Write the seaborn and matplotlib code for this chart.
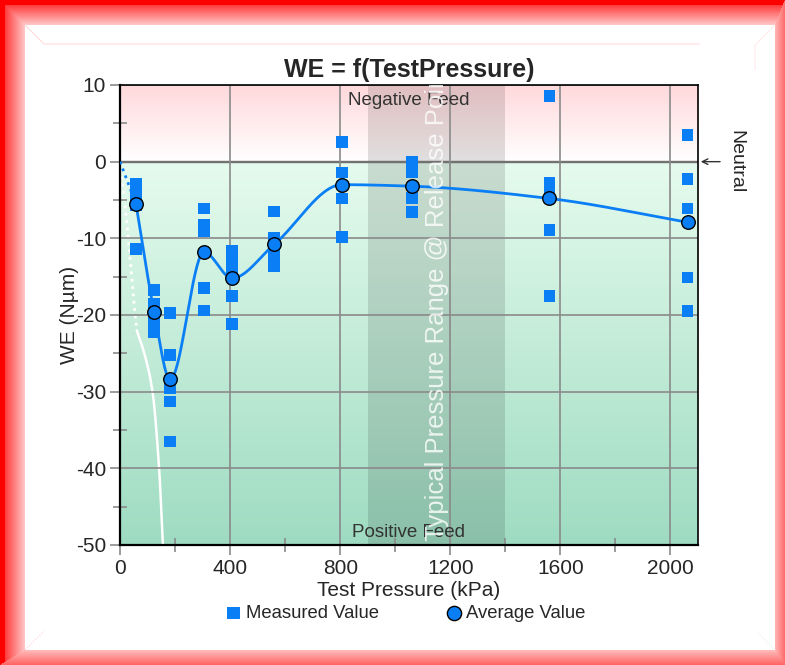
import numpy as np
import pandas as pd
import matplotlib
matplotlib.use("Agg")
import matplotlib.pyplot as plt
import seaborn as sns

# measured points (pressure in kPa, WE in N·µm)
pressures = [58, 124, 182, 305, 407, 560, 807, 1061, 1560, 2062]
measured = [
    [-2.9, -3.6, -4.3, -5.0, -5.7, -11.4],
    [-16.7, -18.5, -19.5, -20.8, -21.5, -22.2],
    [-19.7, -25.2, -28.6, -29.6, -31.3, -36.5],
    [-6.1, -8.3, -9.1, -16.5, -19.4],
    [-11.6, -12.4, -13.2, -14.0, -17.5, -21.2],
    [-6.5, -9.9, -11.0, -12.0, -12.8, -13.6],
    [2.6, -1.4, -4.8, -9.8],
    [0.0, -1.4, -4.7, -6.6],
    [8.6, -2.7, -3.4, -8.9, -17.5],
    [3.5, -2.3, -6.1, -15.1, -19.5],
]
averages = [-5.5, -19.6, -28.4, -11.8, -15.2, -10.8, -3.0, -3.2, -4.8, -7.9]

# white reference curve (dotted part, then solid part)
ref_dot_x = [0, 10, 25, 40, 55, 61]
ref_dot_y = [0, -3, -8, -14, -20, -22]
ref_x = [61, 92, 118, 142, 156]
ref_y = [-22, -25.5, -30, -40, -50]

release_range = (900, 1400)
x_ticks = [0, 400, 800, 1200, 1600, 2000]
y_ticks = [-50, -40, -30, -20, -10, 0, 10]


def pchip(x, y, xs):
    # shape preserving cubic hermite (Fritsch-Carlson)
    x = np.asarray(x, float)
    y = np.asarray(y, float)
    h = np.diff(x)
    delta = np.diff(y) / h
    n = len(x)
    m = np.zeros(n)
    for i in range(1, n - 1):
        if delta[i - 1] * delta[i] > 0:
            w1 = 2 * h[i] + h[i - 1]
            w2 = h[i] + 2 * h[i - 1]
            m[i] = (w1 + w2) / (w1 / delta[i - 1] + w2 / delta[i])
    m[0] = delta[0]
    m[-1] = delta[-1]
    idx = np.clip(np.searchsorted(x, xs) - 1, 0, n - 2)
    t = (xs - x[idx]) / h[idx]
    h00 = 2 * t ** 3 - 3 * t ** 2 + 1
    h10 = t ** 3 - 2 * t ** 2 + t
    h01 = -2 * t ** 3 + 3 * t ** 2
    h11 = t ** 3 - t ** 2
    return h00 * y[idx] + h10 * h[idx] * m[idx] + h01 * y[idx + 1] + h11 * h[idx] * m[idx + 1]


sns.set_style("ticks")
plt.rcParams["font.family"] = ["Liberation Sans", "DejaVu Sans"]
plt.rcParams["axes.unicode_minus"] = False

W, H = 785, 665
fig = plt.figure(figsize=(W / 100, H / 100), dpi=100)

# red bevelled frame drawn as an image in a background axes
bg = fig.add_axes([0, 0, 1, 1], zorder=-5)
bg.set_axis_off()
yy, xx = np.mgrid[0:H, 0:W]
img = np.ones((H, W, 3))
depths = np.stack([xx / 25.0, yy / 25.0, (W - 1 - xx) / 10.0, (H - 1 - yy) / 15.0])
side = np.argmin(depths, axis=0)
dmin = np.min(depths, axis=0)
inside = dmin < 1
g_tl = np.where(dmin < 0.2, 0.0, 0.25 + 0.55 * (dmin - 0.2) / 0.8)
g_r = 0.43 + 0.30 * dmin
g_b = 0.40 + 0.35 * dmin
g = np.select([side < 2, side == 2], [g_tl, g_r], g_b)
img[..., 1] = np.where(inside, g, 1)
img[..., 2] = np.where(inside, g, 1)
bg.imshow(img, extent=[0, W, H, 0], aspect="auto")
bg.set_xlim(0, W)
bg.set_ylim(H, 0)
bg.plot([25, 44, 700], [25, 44, 44], color="#ffd6d6", lw=0.7)
bg.plot([775, 755, 755], [25, 45, 70], color="#ffe8e8", lw=0.7)
bg.plot([25, 44], [650, 631], color="#ffd0d0", lw=0.8, ls=":")
bg.plot([775, 758], [650, 633], color="#f4f4f4", lw=0.7)

ax = fig.add_axes([120 / W, 1 - 545 / H, 578 / W, 460 / H])
xmax = 2100

# feed zone gradients
pink = np.linspace([1.0, 0.85, 0.86], [1.0, 1.0, 1.0], 64).reshape(64, 1, 3)
green = np.linspace([0.90, 0.985, 0.93], [0.62, 0.86, 0.76], 256).reshape(256, 1, 3)
ax.imshow(pink, extent=[0, xmax, 0, 10], aspect="auto", zorder=0)
ax.imshow(green, extent=[0, xmax, -50, 0], aspect="auto", zorder=0)
ax.axvspan(*release_range, color="black", alpha=0.12, lw=0, zorder=1.5)

ax.set_xlim(0, xmax)
ax.set_ylim(-50, 10)
ax.set_xticks(x_ticks)
ax.set_yticks(y_ticks)
ax.set_xticks(np.arange(200, 2100, 400), minor=True)
ax.set_yticks(np.arange(-45, 10, 10), minor=True)
ax.grid(True, which="major", color="#8a8a8a", lw=1.2, zorder=1)
ax.set_axisbelow(False)
for ln in ax.get_xgridlines() + ax.get_ygridlines():
    ln.set_zorder(1)
ax.axhline(0, color="black", lw=1.6, zorder=2)

ax.tick_params(axis="both", which="major", labelsize=15, length=7, width=1.2,
               color="#8a8a8a", direction="out", pad=3)
ax.tick_params(axis="both", which="minor", length=10, width=1.2,
               color="#8a8a8a", direction="inout")
for s in ax.spines.values():
    s.set_color("black")
    s.set_linewidth(1.2)
    s.set_zorder(3)
ax.spines["left"].set_linewidth(1.6)
ax.spines["bottom"].set_linewidth(1.6)

# white reference curve
ax.plot(ref_dot_x, ref_dot_y, color="white", lw=2, ls=":", zorder=2.5)
rx = np.linspace(ref_x[0], ref_x[-1], 100)
ax.plot(rx, pchip(ref_x, ref_y, rx), color="white", lw=1.8, zorder=2.5)

blue = "#0a7ff5"
meas_df = pd.DataFrame(
    [(p, v) for p, vals in zip(pressures, measured) for v in vals],
    columns=["pressure", "we"],
)
avg_df = pd.DataFrame({"pressure": pressures, "we": averages})

# average curve: dotted from the origin, then a smooth curve
ax.plot([0, pressures[0]], [0, averages[0]], color=blue, lw=2, ls=":", zorder=3.5)
xs = np.linspace(pressures[0], pressures[-1], 600)
fit_df = pd.DataFrame({"pressure": xs, "we": pchip(pressures, averages, xs)})
sns.lineplot(data=fit_df, x="pressure", y="we", color=blue, lw=2, ax=ax,
             zorder=3.6, legend=False)

sns.scatterplot(data=meas_df, x="pressure", y="we", marker="s", s=70, color=blue,
                edgecolor="none", linewidth=0, ax=ax, zorder=4, label="Measured Value")
sns.scatterplot(data=avg_df, x="pressure", y="we", marker="o", s=95, color=blue,
                edgecolor="black", linewidth=1.0, ax=ax, zorder=5, label="Average Value")

ax.text(0.5, 0.985, "Negative Feed", transform=ax.transAxes, ha="center", va="top",
        fontsize=13.5, color="#333333", zorder=6)
ax.text(0.5, 0.008, "Positive Feed", transform=ax.transAxes, ha="center", va="bottom",
        fontsize=13.5, color="#333333", zorder=6)
ax.text(sum(release_range) / 2, -49.5, "Typical Pressure Range @ Release Point",
        rotation=90, ha="center", va="bottom", fontsize=18.5, color="white",
        alpha=0.8, clip_on=True, zorder=6)

ax.annotate("", xy=(xmax, 0), xytext=(1.043, 0.0), xycoords="data",
            textcoords=("axes fraction", "data"),
            arrowprops=dict(arrowstyle="->", color="#333333", lw=1), annotation_clip=False)
ax.text(1.05, 0, "Neutral", transform=ax.get_yaxis_transform(), rotation=-90,
        ha="left", va="center", fontsize=14)

ax.set_title("WE = f(TestPressure)", fontsize=18, fontweight="bold", pad=6)
ax.set_xlabel("Test Pressure (kPa)", fontsize=15, labelpad=2)
ax.set_ylabel("WE (Nµm)", fontsize=15, labelpad=-2)

ax.legend_.remove()
h, l = ax.get_legend_handles_labels()
fig.legend(h, l, loc="center", bbox_to_anchor=(405 / W, 1 - 613 / H), ncol=2, frameon=False,
           fontsize=13.3, handletextpad=0.15, columnspacing=3.6, handlelength=1.0,
           markerscale=1.05, borderaxespad=0)

fig.savefig("out.png", dpi=100)
